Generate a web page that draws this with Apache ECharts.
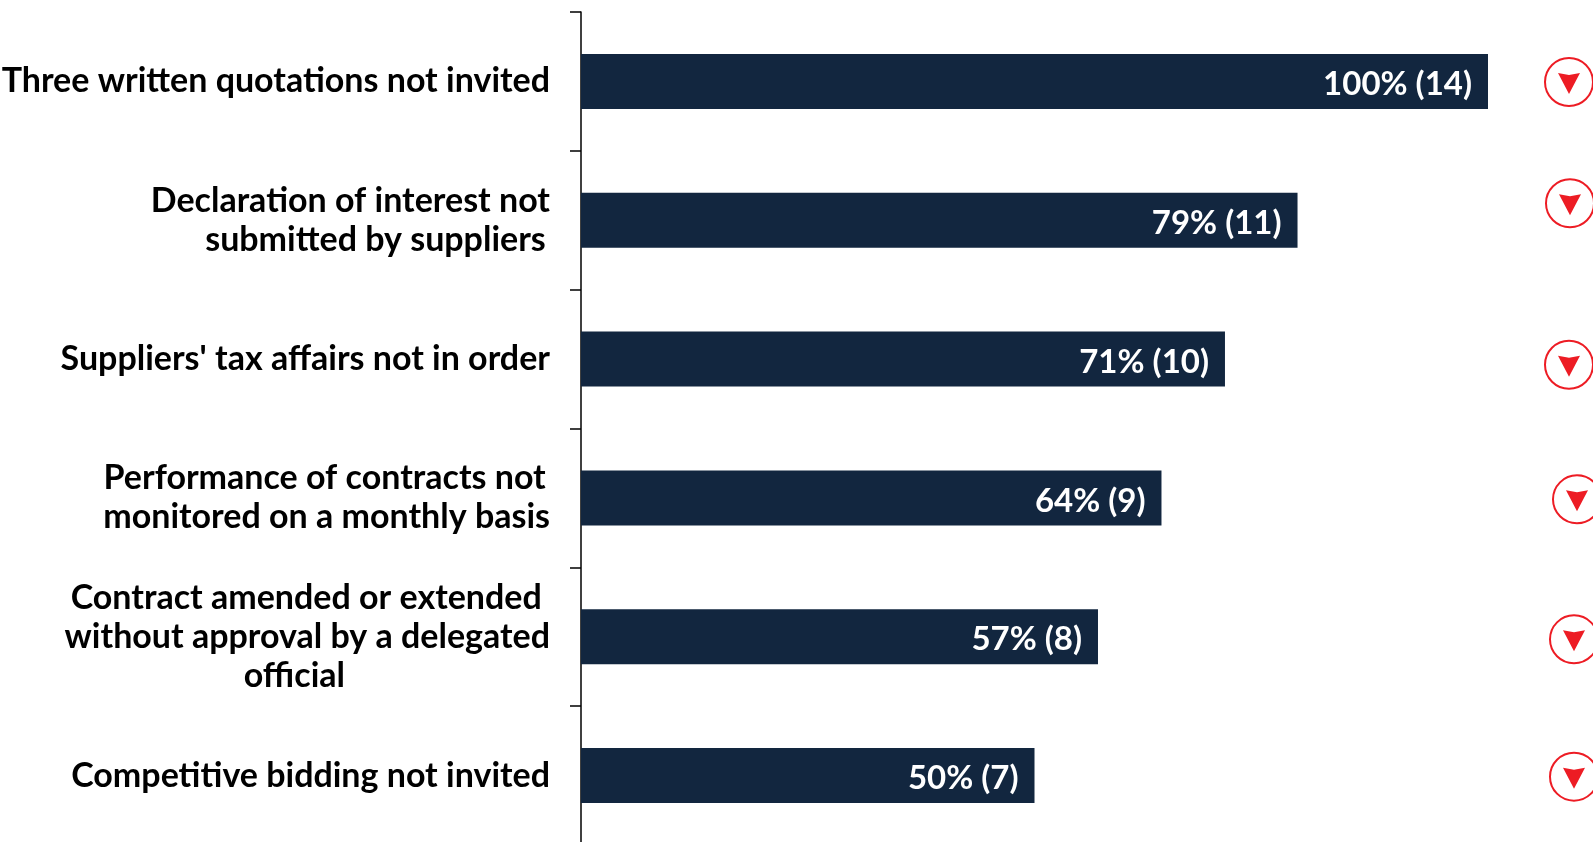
<!DOCTYPE html>
<html>
<head>
<meta charset="utf-8">
<style>html,body{margin:0;padding:0;background:#fff}#chart{width:1593px;height:842px}</style>
<script src="https://cdn.jsdelivr.net/npm/echarts@6/dist/echarts.min.js"></script>
</head>
<body>
<div id="chart"></div>
<script>
// Audit findings, in display order from the top of the chart
const findings = [
  ['Three written quotations not invited'],
  ['Declaration of interest not', 'submitted by suppliers\u2009'],
  ["Suppliers' tax affairs not in order"],
  ['Performance of contracts not\u2009', 'monitored on a monthly basis'],
  ['Contract amended or extended ', 'without approval by a delegated', 'official'],
  ['Competitive bidding not invited']
];
const percentages = [100, 79, 71, 64, 57, 50];
const counts = [14, 11, 10, 9, 8, 7];
const trends = ['down', 'down', 'down', 'down', 'down', 'down'];

const FONT = 'Lato, "Noto Sans", sans-serif';
const NAVY = '#12263F';
const RED = '#ED1C24';
// Horizontal and vertical nudges of each trend badge relative to its row
const badgeShift = [[81, 0.6], [82, -17], [81, 5.7], [89, 1.4], [86, 2.6], [86, 1.1]];

const categories = findings.map(lines => lines.join('\n'));
const labelText = {fontFamily: FONT, fontWeight: 700, fontSize: 34, color: '#000', lineHeight: 39};

const chart = echarts.init(document.getElementById('chart'), null, {renderer: 'canvas'});
chart.setOption({
  animation: false,
  backgroundColor: '#fff',
  grid: {left: 581, top: 12, width: 907, height: 833, outerBoundsMode: 'none'},
  xAxis: {type: 'value', min: 0, max: 100, show: false},
  yAxis: {
    type: 'category',
    inverse: true,
    data: categories,
    axisLine: {show: true, lineStyle: {color: '#000', width: 1.5}},
    axisTick: {show: true, length: 11, lineStyle: {color: '#000', width: 1.5}},
    axisLabel: {
      margin: 31,
      formatter: value => value.split('\n')
        .map(l => `{${l === 'official' ? 'mid' : 'line'}|${l}}`).join('\n'),
      rich: {
        line: {...labelText, align: 'right', width: 540},
        // Last line of the three-line label sits under the middle of the block above it
        mid: {...labelText, align: 'right', padding: [0, 205, 0, 0]}
      }
    }
  },
  series: [
    {
      type: 'bar',
      data: percentages,
      barWidth: 55,
      itemStyle: {color: NAVY},
      label: {
        show: true,
        position: 'insideRight',
        distance: 16,
        offset: [0, 3],
        color: '#fff',
        fontFamily: FONT,
        fontWeight: 700,
        fontSize: 33,
        formatter: p => `${percentages[p.dataIndex]}% (${counts[p.dataIndex]})`
      }
    },
    {
      // Red circled arrow at the end of each row
      type: 'custom',
      clip: false,
      silent: true,
      data: trends.map((t, i) => [100, i]),
      encode: {x: 0, y: 1},
      renderItem: (params, api) => {
        const base = api.coord([api.value(0), api.value(1)]);
        const [dx, dy] = badgeShift[params.dataIndex];
        const cx = base[0] + dx, cy = base[1] + dy;
        return {
          type: 'group',
          children: [
            {type: 'circle', shape: {cx, cy, r: 24}, style: {fill: '#fff', stroke: RED, lineWidth: 2}},
            {type: 'polygon', shape: {points: [
              [cx - 11, cy - 9], [cx, cy - 7], [cx + 11, cy - 9], [cx, cy + 12]
            ]}, style: {fill: RED}}
          ]
        };
      }
    }
  ]
});
</script>
</body>
</html>
